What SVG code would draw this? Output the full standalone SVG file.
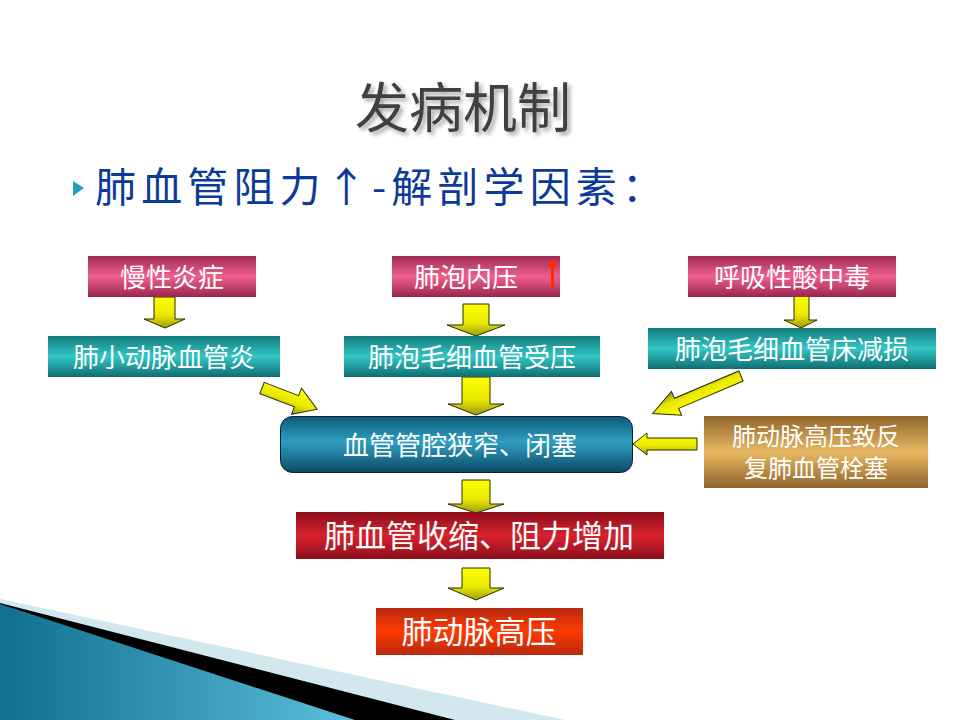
<svg xmlns="http://www.w3.org/2000/svg" width="960" height="720" viewBox="0 0 960 720">
<defs>
<linearGradient id="gMag" x1="0" y1="0" x2="0" y2="1">
<stop offset="0" stop-color="#9e2a55"/><stop offset="0.5" stop-color="#f0608e"/><stop offset="1" stop-color="#9a2550"/>
</linearGradient>
<linearGradient id="gTeal" x1="0" y1="0" x2="0" y2="1">
<stop offset="0" stop-color="#137a7a"/><stop offset="0.5" stop-color="#33c6c6"/><stop offset="1" stop-color="#0f6e70"/>
</linearGradient>
<linearGradient id="gMain" x1="0" y1="0" x2="0" y2="1">
<stop offset="0" stop-color="#0d5a78"/><stop offset="0.45" stop-color="#2e9fc2"/><stop offset="1" stop-color="#0b4a66"/>
</linearGradient>
<linearGradient id="gGold" x1="0" y1="0" x2="0" y2="1">
<stop offset="0" stop-color="#8f6428"/><stop offset="0.5" stop-color="#e9b964"/><stop offset="1" stop-color="#8f6428"/>
</linearGradient>
<linearGradient id="gRed" x1="0" y1="0" x2="0" y2="1">
<stop offset="0" stop-color="#8c0f1c"/><stop offset="0.5" stop-color="#d8222e"/><stop offset="1" stop-color="#8c0f1c"/>
</linearGradient>
<linearGradient id="gOrange" x1="0" y1="0" x2="0" y2="1">
<stop offset="0" stop-color="#b82a10"/><stop offset="0.5" stop-color="#ff3a00"/><stop offset="1" stop-color="#b82a10"/>
</linearGradient>
<linearGradient id="gArrow" x1="0" y1="0" x2="0" y2="1">
<stop offset="0" stop-color="#ffff00"/><stop offset="0.6" stop-color="#e8e800"/><stop offset="1" stop-color="#9a9a10"/>
</linearGradient>
<linearGradient id="gWedge" x1="0" y1="0" x2="1" y2="0">
<stop offset="0" stop-color="#0f6f8c"/><stop offset="1" stop-color="#5cbfdc"/>
</linearGradient>
<filter id="shadow" x="-10%" y="-10%" width="130%" height="140%">
<feDropShadow dx="3" dy="3" stdDeviation="2" flood-color="#000" flood-opacity="0.35"/>
</filter>
<style>
.box-text{font-family:"Noto Sans CJK SC","Liberation Sans",sans-serif;fill:#ffffff;text-anchor:middle;}
.arrow{fill:url(#gArrow);stroke:#2a2a00;stroke-width:1;stroke-linejoin:miter;}
</style>
</defs>
<rect width="960" height="720" fill="#ffffff"/>

<g id="decoration">
<polygon points="0,599 565,720 0,720" fill="#d3e7ee"/>
<polygon points="0,603 455,720 0,720" fill="#000000"/>
<polygon points="0,604 355,720 0,720" fill="url(#gWedge)"/>
</g>

<g id="title">
<text x="463" y="128" font-family="Noto Sans CJK SC, Liberation Sans, sans-serif" font-size="54" fill="#404040" text-anchor="middle" filter="url(#shadow)">发病机制</text>
</g>

<g id="subtitle">
<polygon points="73,181 84,188 73,196" fill="#2a9fb8"/>
<text x="95" y="202" font-family="Noto Sans CJK SC, Liberation Sans, sans-serif" font-size="41" fill="#0b3a98" textLength="568" lengthAdjust="spacing">肺血管阻力↑-解剖学因素：</text>
</g>

<g id="connectors">
<path class="arrow" d="M154,297 H175 V319 H185 L165,328 L144,319 H154 Z"/>
<path class="arrow" d="M463,304 H489 V325 H505 L476,336 L447,325 H463 Z"/>
<path class="arrow" d="M794,296 H809 V320 H817 L801,328 L784,320 H794 Z"/>
<path class="arrow" d="M462,377 H490 V404 H504 L476,415 L448,404 H462 Z"/>
<path class="arrow" transform="translate(262,388) rotate(21)" d="M0,-6 H37 V-14 L59,0 L37,14 V6 H0 Z"/>
<path class="arrow" transform="translate(741,376) rotate(157)" d="M0,-5.5 H70 V-13 L96,0 L70,13 V5.5 H0 Z"/>
<path class="arrow" d="M697,438 H647 V433 L633,444 L647,455 V450 H697 Z"/>
<path class="arrow" d="M462,480 H490 V504 H504 L476,513 L448,504 H462 Z"/>
<path class="arrow" d="M462,568 H490 V588 H504 L476,600 L448,588 H462 Z"/>
</g>

<g id="n1">
<rect x="88" y="256" width="168" height="41" fill="url(#gMag)"/>
<text class="box-text" x="172" y="287" font-size="26">慢性炎症</text>
</g>
<g id="n2">
<rect x="392" y="256" width="168" height="41" fill="url(#gMag)"/>
<text class="box-text" x="466" y="287" font-size="26">肺泡内压</text>
<path d="M551,288 V267 H547.5 L552.5,258 L557.5,267 H554 V288 Z" fill="#ff2a00"/>
</g>
<g id="n3">
<rect x="688" y="256" width="208" height="41" fill="url(#gMag)"/>
<text class="box-text" x="792" y="287" font-size="26">呼吸性酸中毒</text>
</g>
<g id="n4">
<rect x="48" y="336" width="232" height="41" fill="url(#gTeal)"/>
<text class="box-text" x="164" y="367" font-size="26">肺小动脉血管炎</text>
</g>
<g id="n5">
<rect x="344" y="336" width="256" height="41" fill="url(#gTeal)"/>
<text class="box-text" x="472" y="367" font-size="26">肺泡毛细血管受压</text>
</g>
<g id="n6">
<rect x="648" y="328" width="288" height="41" fill="url(#gTeal)"/>
<text class="box-text" x="792" y="359" font-size="26">肺泡毛细血管床减损</text>
</g>
<g id="n7">
<rect x="280.5" y="416.5" width="352" height="56" rx="12" fill="url(#gMain)" stroke="#0a2030" stroke-width="1"/>
<text class="box-text" x="460" y="455" font-size="26">血管管腔狭窄、闭塞</text>
</g>
<g id="n8">
<rect x="704" y="416" width="224" height="72" fill="url(#gGold)"/>
<text class="box-text" x="816" y="445" font-size="24">肺动脉高压致反</text>
<text class="box-text" x="816" y="477" font-size="24">复肺血管栓塞</text>
</g>
<g id="n9">
<rect x="296" y="512" width="368" height="47" fill="url(#gRed)"/>
<text class="box-text" x="479" y="547" font-size="31">肺血管收缩、阻力增加</text>
</g>
<g id="n10">
<rect x="376" y="608" width="207" height="47" fill="url(#gOrange)"/>
<text class="box-text" x="479" y="643" font-size="31">肺动脉高压</text>
</g>
</svg>
